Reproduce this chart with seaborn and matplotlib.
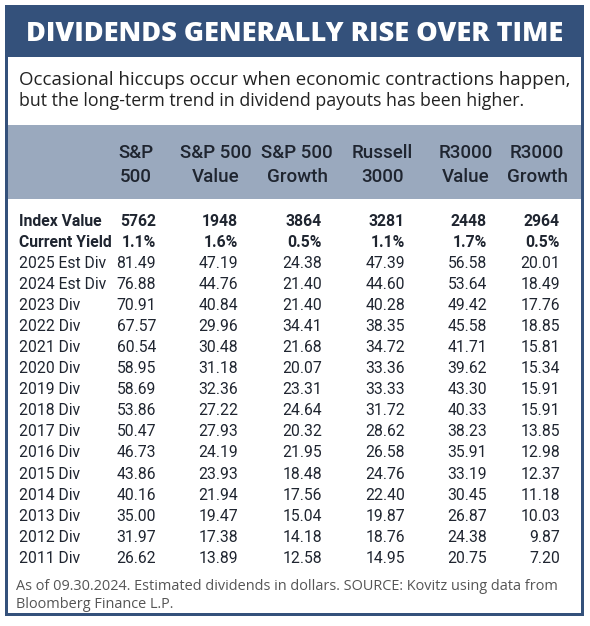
import seaborn as sns
import matplotlib.pyplot as plt
from matplotlib.patches import Rectangle

# Data
title = "DIVIDENDS GENERALLY RISE OVER TIME"
subtitle = ["Occasional hiccups occur when economic contractions happen,",
            "but the long-term trend in dividend payouts has been higher."]
footnote = ["As of 09.30.2024. Estimated dividends in dollars. SOURCE: Kovitz using data from",
            "Bloomberg Finance L.P."]

columns = ["S&P\n500", "S&P 500\nValue", "S&P 500\nGrowth", "Russell\n3000",
           "R3000\nValue", "R3000\nGrowth"]
row_labels = ["Index Value", "Current Yield", "2025 Est Div", "2024 Est Div",
              "2023 Div", "2022 Div", "2021 Div", "2020 Div", "2019 Div", "2018 Div",
              "2017 Div", "2016 Div", "2015 Div", "2014 Div", "2013 Div", "2012 Div",
              "2011 Div"]

index_value = [5762, 1948, 3864, 3281, 2448, 2964]
current_yield = [1.1, 1.6, 0.5, 1.1, 1.7, 0.5]
sp500 = [81.49, 76.88, 70.91, 67.57, 60.54, 58.95, 58.69, 53.86, 50.47, 46.73,
         43.86, 40.16, 35.00, 31.97, 26.62]
sp500_value = [47.19, 44.76, 40.84, 29.96, 30.48, 31.18, 32.36, 27.22, 27.93, 24.19,
               23.93, 21.94, 19.47, 17.38, 13.89]
sp500_growth = [24.38, 21.40, 21.40, 34.41, 21.68, 20.07, 23.31, 24.64, 20.32, 21.95,
                18.48, 17.56, 15.04, 14.18, 12.58]
russell3000 = [47.39, 44.60, 40.28, 38.35, 34.72, 33.36, 33.33, 31.72, 28.62, 26.58,
               24.76, 22.40, 19.87, 18.76, 14.95]
r3000_value = [56.58, 53.64, 49.42, 45.58, 41.71, 39.62, 43.30, 40.33, 38.23, 35.91,
               33.19, 30.45, 26.87, 24.38, 20.75]
r3000_growth = [20.01, 18.49, 17.76, 18.85, 15.81, 15.34, 15.91, 15.91, 13.85, 12.98,
                12.37, 11.18, 10.03, 9.87, 7.20]

div_cols = [sp500, sp500_value, sp500_growth, russell3000, r3000_value, r3000_growth]

# Style
sns.set_theme(style="white")
plt.rcParams["font.family"] = ["Roboto", "DejaVu Sans"]

navy = "#34517b"
band = "#9aa9be"
ink = "#1f2530"

W, H = 590, 626
fig = plt.figure(figsize=(W / 100, H / 100), dpi=100)
ax = fig.add_axes([0, 0, 1, 1])
ax.set_xlim(0, W)
ax.set_ylim(H, 0)
ax.axis("off")

# frame, title band, header band
ax.add_patch(Rectangle((5, 5), 579, 611, color=navy, lw=0))
ax.add_patch(Rectangle((8, 57), 573, 556, color="white", lw=0))
ax.add_patch(Rectangle((8, 125), 573, 74, color=band, lw=0))

renderer = fig.canvas.get_renderer()


def fit_text(x, y, s, width, **kw):
    # shrink/grow font so the line spans the given pixel width
    t = ax.text(x, y, s, **kw)
    w = t.get_window_extent(renderer).width
    t.set_fontsize(t.get_fontsize() * width / w)
    return t


fit_text(295, 41, title, 535, ha="center", va="baseline", color="white",
         fontfamily="Open Sans", fontweight="heavy", fontsize=18)
fit_text(19, 85, subtitle[0], 549, ha="left", va="baseline", color="#222222",
         fontfamily="Open Sans", fontsize=12)
fit_text(19, 106, subtitle[1], 549 * 0.915, ha="left", va="baseline", color="#222222",
         fontfamily="Open Sans", fontsize=12)
t = fit_text(16, 590, footnote[0], 548, ha="left", va="baseline", color="#555555",
             fontfamily="Open Sans", fontsize=9)
ax.text(16, 608, footnote[1], ha="left", va="baseline", color="#555555",
        fontfamily="Open Sans", fontsize=t.get_fontsize())

# header
head_x = [136, 216, 297, 382, 466, 537]
for x, lab in zip(head_x, columns):
    l1, l2 = lab.split("\n")
    ax.text(x, 157.5, l1, ha="center", va="baseline", color=ink, fontsize=13.5,
            fontweight="medium")
    ax.text(x, 181.5, l2, ha="center", va="baseline", color=ink, fontsize=13.5,
            fontweight="medium")

# body
col_right = [156, 238, 322, 405, 487, 560]
row_y = [220 + 21.08 * i + 5.6 for i in range(len(row_labels))]
fs = 11.3

for i, lab in enumerate(row_labels):
    bold = i < 2
    ax.text(19, row_y[i], lab, ha="left", va="baseline", color=ink,
            fontsize=fs, fontweight="bold" if bold else "normal")

for j, x in enumerate(col_right):
    ax.text(x, row_y[0], f"{index_value[j]}", ha="right", va="baseline", color=ink,
            fontsize=fs, fontweight="bold")
    ax.text(x, row_y[1], f"{current_yield[j]:.1f}%", ha="right", va="baseline", color=ink,
            fontsize=fs, fontweight="bold")
    for k, v in enumerate(div_cols[j]):
        ax.text(x, row_y[k + 2], f"{v:.2f}", ha="right", va="baseline", color=ink,
                fontsize=fs)

fig.savefig("out.png", dpi=100)
